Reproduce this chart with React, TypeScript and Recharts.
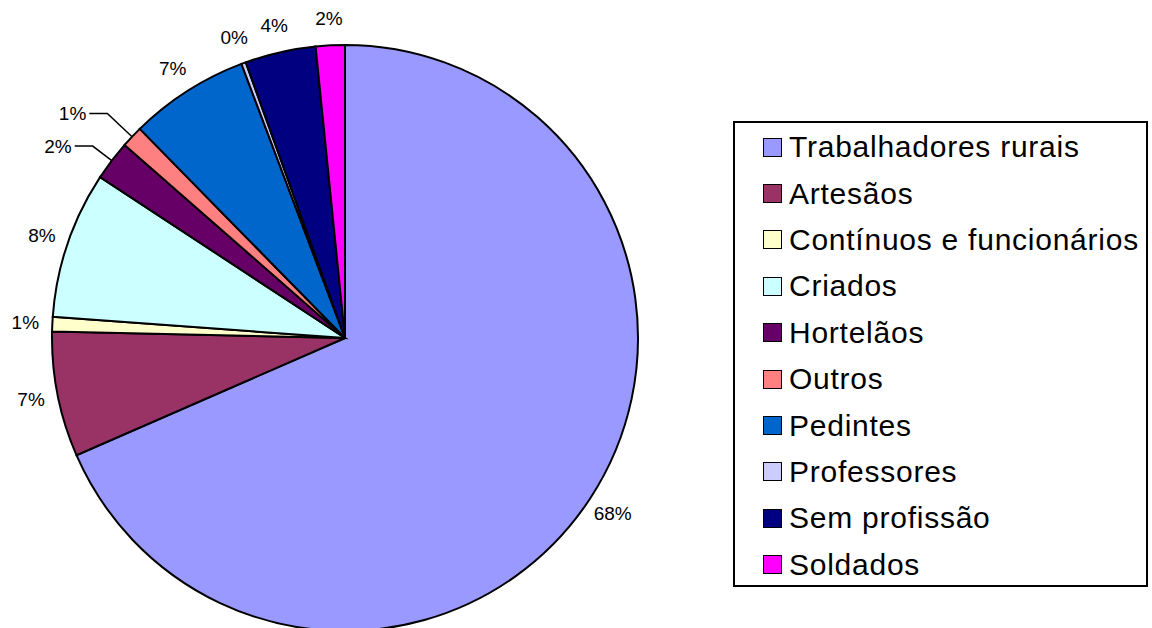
import { Cell, Legend, Pie, PieChart } from "recharts"

// Occupations, clockwise from 12 o'clock
const categories = [
  "Trabalhadores rurais",
  "Artesãos",
  "Contínuos e funcionários",
  "Criados",
  "Hortelãos",
  "Outros",
  "Pedintes",
  "Professores",
  "Sem profissão",
  "Soldados",
]

// share of total (%)
const values = [68.45, 6.9, 0.8, 8.1, 2.2, 1.2, 6.6, 0.25, 3.9, 1.6]

const colors = [
  "#9999FF",
  "#993366",
  "#FFFFCC",
  "#CCFFFF",
  "#660066",
  "#FF8080",
  "#0066CC",
  "#CCCCFF",
  "#000080",
  "#FF00FF",
]

// these two labels are pulled out with a leader line (name -> line length)
const leaderLabels: Record<string, number> = { "Hortelãos": 24, "Outros": 34 }

const data = categories.map((name, i) => ({ name, value: values[i] }))

const FONT = "'Liberation Sans', Arial, sans-serif"
const RADIAN = Math.PI / 180

const renderLabel = (props: any) => {
  const { cx, cy, midAngle, outerRadius, percent, index } = props
  const text = `${Math.round(percent * 100)}%`
  const cos = Math.cos(-midAngle * RADIAN)
  const sin = Math.sin(-midAngle * RADIAN)
  const lead = leaderLabels[categories[index]]

  if (lead) {
    const sx = cx + outerRadius * cos
    const sy = cy + outerRadius * sin
    const ex = cx + (outerRadius + lead) * cos
    const ey = cy + (outerRadius + lead) * sin
    const hx = ex - 18
    return (
      <g>
        <polyline
          points={`${sx},${sy} ${ex},${ey} ${hx},${ey}`}
          fill="none"
          stroke="#000"
          strokeWidth={1.5}
        />
        <text
          x={hx - 3}
          y={ey}
          textAnchor="end"
          dominantBaseline="central"
          fontFamily={FONT}
          fontSize={19}
          fill="#000"
        >
          {text}
        </text>
      </g>
    )
  }

  const r = outerRadius + 27
  return (
    <text
      x={cx + r * cos}
      y={cy + r * sin}
      textAnchor="middle"
      dominantBaseline="central"
      fontFamily={FONT}
      fontSize={19}
      fill="#000"
    >
      {text}
    </text>
  )
}

const renderLegend = () => (
  <div
    style={{
      width: 411,
      height: 461,
      border: "2px solid #000",
      paddingTop: 1,
      boxSizing: "content-box",
      fontFamily: FONT,
      fontSize: 30,
      letterSpacing: 0.75,
      color: "#000",
      background: "#fff",
    }}
  >
    {categories.map((name, i) => (
      <div
        key={name}
        style={{ height: 46.4, display: "flex", alignItems: "center", paddingLeft: 28 }}
      >
        <span
          style={{
            width: 17,
            height: 17,
            border: "1.5px solid #000",
            background: colors[i],
            marginRight: 7,
            flexShrink: 0,
          }}
        />
        <span style={{ whiteSpace: "nowrap" }}>{name}</span>
      </div>
    ))}
  </div>
)

export default function App() {
  return (
    <div style={{ position: "absolute", left: 0, top: 0, width: 1152, height: 628, background: "#fff" }}>
      <PieChart width={1152} height={628} margin={{ top: 0, right: 0, bottom: 0, left: 0 }}>
        <Pie
          data={data}
          dataKey="value"
          nameKey="name"
          cx={345}
          cy={338}
          outerRadius={293}
          startAngle={90}
          endAngle={-270}
          stroke="#000"
          strokeWidth={2}
          label={renderLabel}
          labelLine={false}
          isAnimationActive={false}
        >
          {data.map((entry, index) => (
            <Cell key={`cell-${index}`} fill={colors[index]} />
          ))}
        </Pie>
        <Legend
          layout="vertical"
          content={renderLegend}
          wrapperStyle={{ position: "absolute", left: 733, top: 121, width: "auto" }}
        />
      </PieChart>
    </div>
  )
}
